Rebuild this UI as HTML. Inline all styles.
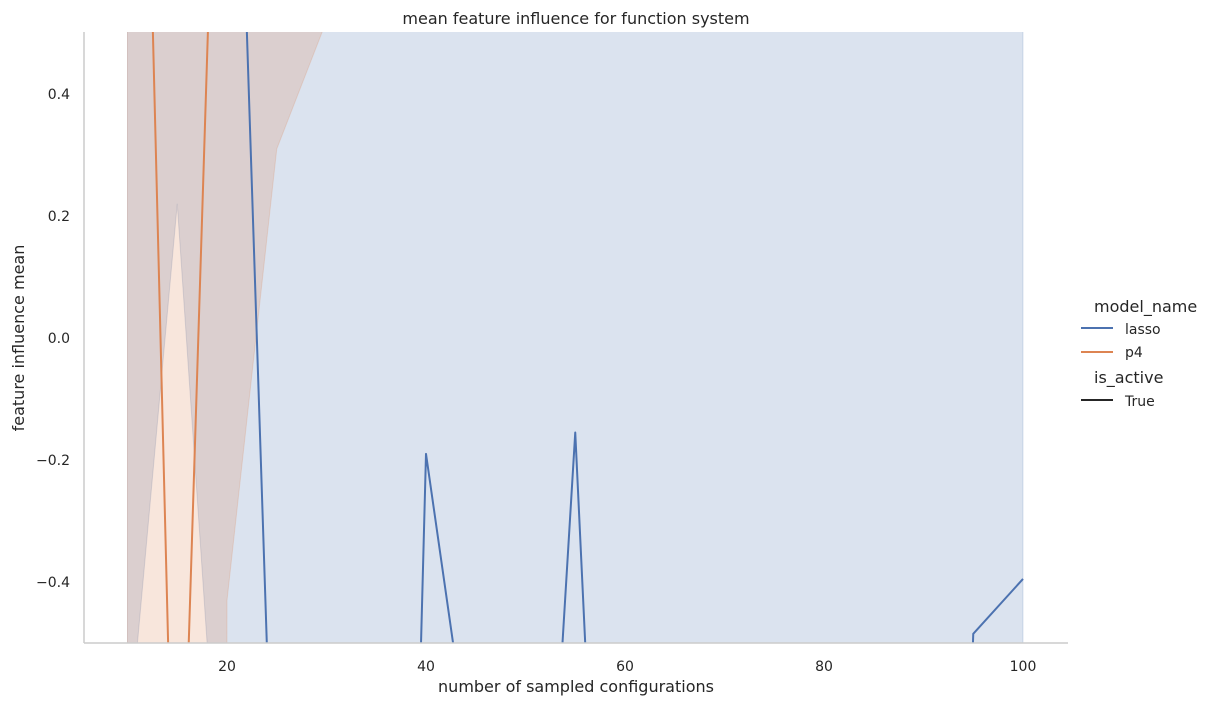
<!DOCTYPE html>
<html><head><meta charset="utf-8"><style>
html,body{margin:0;padding:0;background:#fff;overflow:hidden;width:1215px;height:706px;}
svg{display:block;overflow:hidden;}
svg text{font-family:"DejaVu Sans","Liberation Sans",sans-serif;fill:#262626;}
</style></head><body>
<svg id="c" width="1215" height="706">
<defs><clipPath id="clip"><rect x="84" y="32" width="984" height="611"/></clipPath></defs>
<g id="plot" clip-path="url(#clip)"></g>
<g id="axes"></g>
</svg>
<script>
const xTicks=[20,40,60,80,100];
const yTicks=[-0.4,-0.2,0.0,0.2,0.4];
const yTickLabels=["\u22120.4","\u22120.2","0.0","0.2","0.4"];
const lassoX=[10,15,20,25,30,35,40,45,50,55,60,65,70,75,80,85,90,95,100];
const lassoY=[3,3,1.5,-1.0,-3,-3.29,-0.19,-0.76,-1.5,-0.155,-1.88,-3,-3,-3,-3,-3,-3,-0.485,-0.395];
const lassoBandX=[10,15,20,25,100];
const lassoLower=[-0.68,0.22,-0.98,-3,-3];
const lassoUpper=[3,3,3,3,3];
const p4X=[10,15,20];
const p4Y=[2.17,-1.1,1.5];
const p4BandX=[10,15,19.9,20,25,30];
const p4Lower=[-3,-3,-3,-0.43,0.31,0.52];
const p4Upper=[3,3,3,3,3,3];
const NS="http://www.w3.org/2000/svg";
const YMIN=-0.55,YMAX=0.55;
const sx=v=>28+v*9.95;
const sy=v=>338-v*610;
const cl=v=>Math.max(YMIN,Math.min(YMAX,v));
const plot=document.getElementById('plot'),axes=document.getElementById('axes');
function mk(tag,attrs,parent){const e=document.createElementNS(NS,tag);for(const k in attrs)e.setAttribute(k,attrs[k]);parent.appendChild(e);return e;}
// insert crossing points at YMIN/YMAX, then clamp -> exact shape inside range
function boundPts(xs,ys){
  const out=[];
  for(let i=0;i<xs.length;i++){
    out.push([xs[i],ys[i]]);
    if(i<xs.length-1){
      const y1=ys[i],y2=ys[i+1],ts=[];
      [YMIN,YMAX].forEach(b=>{if((y1-b)*(y2-b)<0)ts.push((b-y1)/(y2-y1));});
      ts.sort((a,b)=>a-b).forEach(t=>out.push([xs[i]+(xs[i+1]-xs[i])*t,y1+(y2-y1)*t]));
    }
  }
  return out.map(p=>[p[0],cl(p[1])]);
}
function band(xs,lo,hi,color,name){
  const up=boundPts(xs,hi),dn=boundPts(xs,lo).reverse();
  const d='M'+up.concat(dn).map(p=>sx(p[0])+','+sy(p[1])).join('L')+'Z';
  const p=mk('path',{d:d,fill:color,'fill-opacity':0.2,stroke:color,'stroke-opacity':0.2},plot);
  
  
}
function clipSeg(x1,y1,x2,y2){
  let t0=0,t1=1;const dy=y2-y1;
  if(dy===0){if(y1<YMIN||y1>YMAX)return null;}
  else{
    let ta=(YMIN-y1)/dy,tb=(YMAX-y1)/dy;if(ta>tb){const t=ta;ta=tb;tb=t;}
    t0=Math.max(t0,ta);t1=Math.min(t1,tb);if(t0>t1)return null;
  }
  return [x1+(x2-x1)*t0,y1+dy*t0,x1+(x2-x1)*t1,y1+dy*t1];
}
function line(xs,ys,color,name){
  let d='',last=null;
  for(let i=0;i<xs.length-1;i++){
    const s=clipSeg(xs[i],ys[i],xs[i+1],ys[i+1]);if(!s){last=null;continue;}
    const a=sx(s[0])+','+sy(s[1]),b=sx(s[2])+','+sy(s[3]);
    if(last!==a)d+='M'+a;
    d+='L'+b;last=b;
  }
  const p=mk('path',{d:d,fill:'none',stroke:color,'stroke-width':2,'stroke-linejoin':'round'},plot);
  
  
}
band(lassoBandX,lassoLower,lassoUpper,'#4c72b0','lasso-ci-band');
band(p4BandX,p4Lower,p4Upper,'#dd8452','p4-ci-band');
line(lassoX,lassoY,'#4c72b0','lasso-line');
line(p4X,p4Y,'#dd8452','p4-line');
let s=mk('line',{x1:84,y1:32,x2:84,y2:643,stroke:'#cccccc','stroke-width':1.5},axes);

s=mk('line',{x1:84,y1:643,x2:1068,y2:643,stroke:'#cccccc','stroke-width':1.5},axes);

xTicks.forEach(v=>{const t=mk('text',{x:sx(v),y:671,'text-anchor':'middle','font-size':14},axes);t.textContent=v;
});
yTicks.forEach((v,i)=>{const t=mk('text',{x:70,y:sy(v)+5,'text-anchor':'end','font-size':14},axes);t.textContent=yTickLabels[i];
});
function txt(x,y,str,size,name,anchor,rot){const t=mk('text',{x:x,y:y,'font-size':size,'text-anchor':anchor||'start'},axes);if(rot)t.setAttribute('transform',rot);t.textContent=str;
return t;}
txt(576,24,'mean feature influence for function system',16,'chart-title','middle');
txt(576,692,'number of sampled configurations',16,'x-axis-title','middle');
txt(24,338,'feature influence mean',16,'y-axis-title','middle','rotate(-90 24 338)');
txt(1094,312,'model_name',16,'legend-title-model');
let l=mk('line',{x1:1081,y1:328,x2:1113,y2:328,stroke:'#4c72b0','stroke-width':2},axes);
txt(1125,334,'lasso',14,'legend-lasso');
l=mk('line',{x1:1081,y1:352,x2:1113,y2:352,stroke:'#dd8452','stroke-width':2},axes);
txt(1125,357,'p4',14,'legend-p4');
txt(1094,383,'is_active',16,'legend-title-active');
l=mk('line',{x1:1081,y1:400,x2:1113,y2:400,stroke:'#262626','stroke-width':2},axes);
txt(1125,406,'True',14,'legend-true');
</script>
</body></html>
